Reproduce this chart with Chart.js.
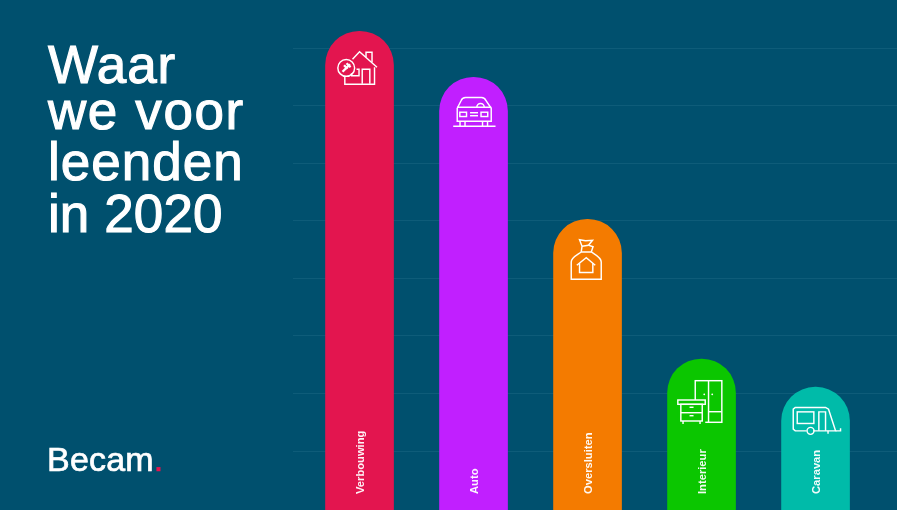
<!DOCTYPE html>
<html>
<head>
<meta charset="utf-8">
<script src="https://cdn.jsdelivr.net/npm/chart.js@4"></script>
<style>
html,body{margin:0;padding:0;background:#00506E;overflow:hidden}
#wrap{position:relative;width:897px;height:510px}
canvas{display:block}
</style>
</head>
<body>
<div id="wrap"><canvas id="c" width="897" height="510"></canvas></div>
<script>
const categories = ["Verbouwing", "Auto", "Oversluiten", "Interieur", "Caravan"];
const values = [83, 75, 50.3, 26, 21.1];
const barColors = ["#E3154F", "#C11FFF", "#F47B00", "#0BC600", "#00BBA9"];
const gridTicks = [10, 20, 30, 40, 50, 60, 70, 80];
const titleLines = ["Waar", "we voor", "leenden", "in 2020"];
const titleBaselines = [83, 129, 180, 232];
const titleSpacing = ["0.8px", "1.6px", "1px", "0.1px"];
const brand = "Becam";

function poly(ctx, pts, close) {
  ctx.beginPath();
  pts.forEach((p, i) => i ? ctx.lineTo(p[0], p[1]) : ctx.moveTo(p[0], p[1]));
  if (close) ctx.closePath();
  ctx.stroke();
}
function rect(ctx, x0, y0, x1, y1) { ctx.strokeRect(x0, y0, x1 - x0, y1 - y0); }
function dot(ctx, x, y, r) { ctx.beginPath(); ctx.arc(x, y, r, 0, Math.PI * 2); ctx.fill(); }

const icons = [
  function house(ctx) {
    poly(ctx, [[-7, 28], [0, 20.5], [17.5, 36]]);
    poly(ctx, [[6.5, 26], [6.5, 21], [12.5, 21], [12.5, 31]]);
    poly(ctx, [[-14.7, 45], [-14.7, 53], [15, 53], [15, 36]]);
    poly(ctx, [[2.7, 52.5], [2.7, 38], [10.3, 38], [10.3, 52.5]]);
    poly(ctx, [[-3, 38], [-0.5, 38], [-0.5, 44.5], [-8, 44.5], [-8, 42]]);
    ctx.beginPath(); ctx.arc(-13.3, 36.7, 8.4, 0, Math.PI * 2); ctx.stroke();
    ctx.save();
    ctx.lineWidth = 2.4;
    poly(ctx, [[-17, 40.5], [-9.5, 33]]);
    poly(ctx, [[-15.5, 34], [-12, 37.5]]);
    poly(ctx, [[-13, 32], [-9, 36]]);
    ctx.restore();
  },
  function car(ctx) {
    ctx.beginPath();
    ctx.moveTo(-16.3, 31); ctx.lineTo(-12.5, 23.5);
    ctx.quadraticCurveTo(-11.3, 20.3, -8, 20.3);
    ctx.lineTo(8, 20.3);
    ctx.quadraticCurveTo(11.3, 20.3, 12.5, 23.5);
    ctx.lineTo(17.7, 31); ctx.lineTo(17.7, 44); ctx.lineTo(-16.3, 44); ctx.closePath();
    ctx.stroke();
    poly(ctx, [[-16.3, 30], [17.7, 30]]);
    ctx.beginPath(); ctx.arc(7, 30, 3.7, Math.PI, 0); ctx.stroke();
    poly(ctx, [[-20.3, 49], [22, 49]]);
    rect(ctx, -13.7, 35, -7, 39.3);
    rect(ctx, 7.5, 35, 14.2, 39.3);
    poly(ctx, [[-3.5, 35.5], [4.5, 35.5]]);
    poly(ctx, [[-3.5, 38.5], [4.5, 38.5]]);
    poly(ctx, [[-13.5, 44], [-13.5, 49]]);
    poly(ctx, [[-8.5, 44], [-8.5, 49]]);
    poly(ctx, [[9, 44], [9, 49]]);
    poly(ctx, [[14, 44], [14, 49]]);
  },
  function bag(ctx) {
    ctx.beginPath();
    ctx.moveTo(-16.3, 60); ctx.lineTo(-16.3, 42.7);
    ctx.bezierCurveTo(-16.3, 38, -9, 35, -6.3, 32.7);
    ctx.lineTo(3.7, 32.7);
    ctx.bezierCurveTo(7, 35, 13.7, 38, 13.7, 42.7);
    ctx.lineTo(13.7, 60); ctx.closePath();
    ctx.stroke();
    poly(ctx, [[-6.3, 32.7], [-5.5, 27], [-8, 20.5], [-2, 21.5], [5, 21], [1, 26], [5.5, 27.5], [3.7, 32.7]]);
    poly(ctx, [[-5.5, 27], [1, 26]]);
    poly(ctx, [[-10.7, 46], [-1.3, 38.5], [7.7, 46]]);
    poly(ctx, [[-8, 44], [-8, 53.3], [5.3, 53.3], [5.3, 44]]);
  },
  function furniture(ctx) {
    rect(ctx, -6.3, 21.7, 20.3, 63.3);
    poly(ctx, [[7, 21.7], [7, 63.3]]);
    poly(ctx, [[7, 52.7], [20.3, 52.7]]);
    dot(ctx, 2.7, 35.3, 0.9);
    dot(ctx, 10.7, 35.3, 0.9);
    ctx.save();
    ctx.fillStyle = barColors[3];
    ctx.fillRect(-23.7, 41, 27.4, 24);
    ctx.restore();
    rect(ctx, -23.7, 41, 3.7, 45.3);
    rect(ctx, -20.7, 45.3, 0.7, 62);
    poly(ctx, [[-20.7, 53.7], [0.7, 53.7]]);
    poly(ctx, [[-12, 48.3], [-8, 48.3]]);
    poly(ctx, [[-12, 56.7], [-8, 56.7]]);
    poly(ctx, [[-18.5, 62], [-18.5, 65]]);
    poly(ctx, [[-1.5, 62], [-1.5, 65]]);
  },
  function caravan(ctx) {
    ctx.beginPath();
    ctx.moveTo(-9, 43.7); ctx.lineTo(-20.3, 43.7); ctx.lineTo(-22.3, 42); ctx.lineTo(-22.3, 22);
    ctx.lineTo(-20.3, 20.3); ctx.lineTo(10, 20.3); ctx.lineTo(13, 22); ctx.lineTo(20, 43.7);
    ctx.lineTo(-2.5, 43.7);
    ctx.stroke();
    rect(ctx, -18.3, 24.7, -1.7, 36.3);
    poly(ctx, [[3.3, 43.7], [3.3, 24.7], [10, 24.7], [10, 43.7]]);
    ctx.beginPath(); ctx.arc(-5, 43.7, 3.5, 0, Math.PI * 2); ctx.stroke();
    poly(ctx, [[12.5, 43.7], [12.5, 46.5]]);
    poly(ctx, [[20, 43.7], [25, 43.7], [25, 41]]);
  }
];

const decorations = {
  id: "decorations",
  afterDatasetsDraw(chart) {
    const ctx = chart.ctx;
    const bars = chart.getDatasetMeta(0).data;
    bars.forEach((bar, i) => {
      ctx.save();
      ctx.translate(bar.x, bar.y);
      ctx.strokeStyle = "#FFFFFF";
      ctx.fillStyle = "#FFFFFF";
      ctx.lineWidth = 1.45;
      ctx.lineJoin = "miter";
      icons[i](ctx);
      ctx.restore();

      ctx.save();
      ctx.translate(bar.x + 4, 494);
      ctx.rotate(-Math.PI / 2);
      ctx.fillStyle = "rgba(255,255,255,0.95)";
      ctx.font = "bold 11.2px 'Liberation Sans Narrow', 'Liberation Sans'";
      ctx.textAlign = "left";
      ctx.textBaseline = "alphabetic";
      ctx.fillText(categories[i], 0, 0);
      ctx.restore();
    });

    ctx.save();
    ctx.fillStyle = "#FFFFFF";
    ctx.strokeStyle = "#FFFFFF";
    ctx.lineWidth = 1.1;
    ctx.font = "53px 'Liberation Sans'";
    ctx.textAlign = "left";
    titleLines.forEach((t, i) => {
      ctx.letterSpacing = titleSpacing[i];
      ctx.fillText(t, 48, titleBaselines[i]);
      ctx.strokeText(t, 48, titleBaselines[i]);
    });
    ctx.font = "34px 'Liberation Sans'";
    ctx.letterSpacing = "0.2px";
    ctx.lineWidth = 0.7;
    ctx.fillText(brand, 47, 471);
    ctx.strokeText(brand, 47, 471);
    const w = ctx.measureText(brand).width;
    ctx.fillStyle = "#E3154F";
    ctx.fillText(".", 47 + w, 471);
    ctx.strokeStyle = "#E3154F";
    ctx.strokeText(".", 47 + w, 471);
    ctx.restore();
  }
};

new Chart(document.getElementById("c"), {
  type: "bar",
  data: {
    datasets: [{
      data: values.map((v, i) => ({ x: i, y: v })),
      backgroundColor: barColors,
      base: -0.26,
      barThickness: 68,
      borderWidth: 0,
      borderSkipped: "bottom",
      borderRadius: { topLeft: 34, topRight: 34, bottomLeft: 0, bottomRight: 0 }
    }]
  },
  plugins: [decorations],
  options: {
    responsive: false,
    animation: false,
    layout: { padding: { left: 293, right: 0, top: 0, bottom: 0 } },
    plugins: { legend: { display: false }, title: { display: false }, tooltip: { enabled: false } },
    scales: {
      x: { type: "linear", display: false, offset: false, min: -0.5835, max: 4.7145 },
      y: {
        min: -0.26,
        max: 88.43,
        afterBuildTicks(scale) { scale.ticks = gridTicks.map(value => ({ value })); },
        ticks: { display: false },
        border: { display: false },
        grid: { color: "#0E5C79", lineWidth: 1, drawTicks: false }
      }
    }
  }
});
</script>
</body>
</html>
